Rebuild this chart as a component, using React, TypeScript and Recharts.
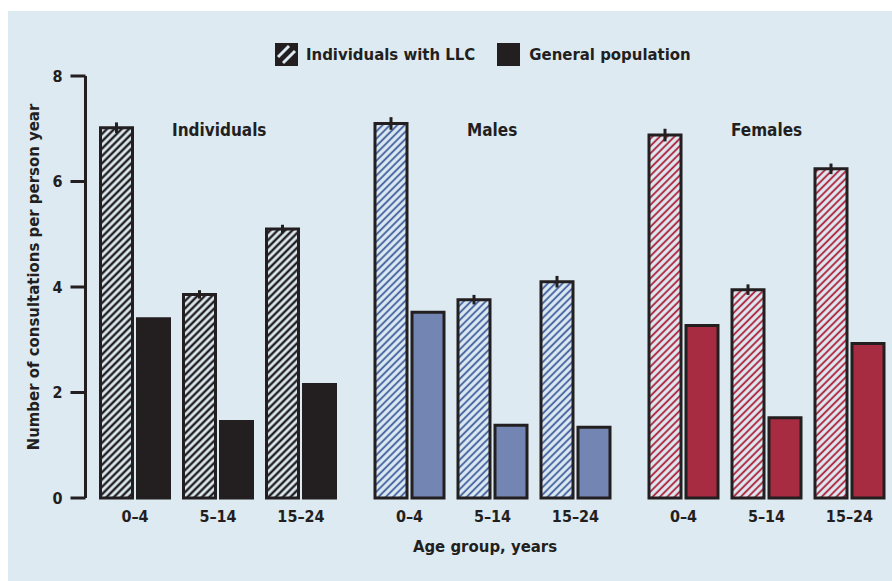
import React from 'react';
import { BarChart, Bar, XAxis, YAxis, ErrorBar } from 'recharts';

// age groups on the x axis
const ageGroups = ['0–4', '5–14', '15–24'];

// consultations per person year
const individualsLLC = [7.02, 3.86, 5.1];
const individualsGen = [3.4, 1.45, 2.15];
const individualsErr = [0.1, 0.08, 0.08];

const malesLLC = [7.1, 3.76, 4.1];
const malesGen = [3.52, 1.38, 1.34];
const malesErr = [0.12, 0.09, 0.11];

const femalesLLC = [6.88, 3.95, 6.24];
const femalesGen = [3.27, 1.52, 2.93];
const femalesErr = [0.12, 0.1, 0.1];

const yTicks = [0, 2, 4, 6, 8];

const BG = '#ddeaf2';
const INK = '#231f20';
const BLUE = '#7385b2';
const BLUE_STRIPE = '#4d6aa4';
const RED = '#a72c41';
const RED_STRIPE = '#b02f46';
const FONT = '"DejaVu Sans Condensed", "DejaVu Sans", sans-serif';

const build = (llc: number[], gen: number[], err: number[]) =>
  ageGroups.map((age, i) => ({ age, llc: llc[i], gen: gen[i], err: err[i] }));

const groups = [
  { title: 'Individuals', data: build(individualsLLC, individualsGen, individualsErr), hatch: 'hatch-ink', fill: INK },
  { title: 'Males', data: build(malesLLC, malesGen, malesErr), hatch: 'hatch-blue', fill: BLUE },
  { title: 'Females', data: build(femalesLLC, femalesGen, femalesErr), hatch: 'hatch-red', fill: RED },
];

const tickStyle = { fontSize: 16, fontWeight: 700, fill: INK, fontFamily: FONT };

function Hatch({ id, color, w }: { id: string; color: string; w: number }) {
  const s = 5.2;
  return (
    <pattern id={id} patternUnits="userSpaceOnUse" width={s} height={s} patternTransform="rotate(45)">
      <rect width={s} height={s} fill={BG} />
      <line x1={s / 2} y1="0" x2={s / 2} y2={s} stroke={color} strokeWidth={w} />
    </pattern>
  );
}

// panel coords: bands start at 85.5 / 359.5 / 633.5, each 249 wide
const bandLeft = [85.5, 359.5, 633.5];
const AXIS_X = 77.5;

export default function App() {
  return (
    <div style={{ position: 'absolute', left: 8, top: 11, width: 884, height: 570, background: BG, fontFamily: FONT, color: INK }}>
      <svg width={0} height={0} style={{ position: 'absolute' }}>
        <defs>
          <Hatch id="hatch-ink" color={INK} w={2.4} />
          <Hatch id="hatch-blue" color={BLUE_STRIPE} w={2} />
          <Hatch id="hatch-red" color={RED_STRIPE} w={2} />
        </defs>
      </svg>

      {/* legend */}
      <div style={{ position: 'absolute', left: 267, top: 32, display: 'flex', alignItems: 'center', fontSize: 16.6, fontWeight: 700 }}>
        <svg width={23} height={23} style={{ marginRight: 8 }}>
          <rect x={0} y={0} width={23} height={23} fill={INK} />
          <line x1={3} y1={14} x2={14} y2={3} stroke={BG} strokeWidth={3} />
          <line x1={8} y1={20} x2={20} y2={8} stroke={BG} strokeWidth={3} />
        </svg>
        <span>Individuals with LLC</span>
        <svg width={23} height={23} style={{ marginLeft: 22, marginRight: 9 }}>
          <rect x={0} y={0} width={23} height={23} fill={INK} />
        </svg>
        <span>General population</span>
      </div>

      {/* y axis title */}
      <div style={{ position: 'absolute', left: 25, top: 266, width: 0, height: 0 }}>
        <div style={{ position: 'absolute', transform: 'translate(-50%, -50%) rotate(-90deg)', whiteSpace: 'nowrap', fontSize: 16.6, fontWeight: 700 }}>
          Number of consultations per person year
        </div>
      </div>

      {groups.map((g, gi) => {
        const first = gi === 0;
        const left = first ? 0 : bandLeft[gi];
        const width = first ? bandLeft[0] + 249 : 249;
        return (
          <div key={g.title} style={{ position: 'absolute', left, top: 0 }}>
            <BarChart width={width} height={570} data={g.data} margin={{ top: 65, right: 0, bottom: 0, left: 0 }} barSize={32} barGap={5}>
              <XAxis
                dataKey="age"
                axisLine={false}
                tickLine={false}
                tickSize={0}
                tickMargin={13}
                height={83}
                interval={0}
                padding={first ? { left: bandLeft[0] - AXIS_X, right: 0 } : { left: 0, right: 0 }}
                tick={tickStyle}
              />
              <YAxis
                hide={!first}
                domain={[0, 8]}
                ticks={yTicks}
                width={AXIS_X}
                axisLine={{ stroke: INK, strokeWidth: 3 }}
                tickLine={{ stroke: INK, strokeWidth: 3 }}
                tickSize={15}
                tickMargin={8}
                tick={tickStyle}
              />
              <Bar dataKey="llc" fill={`url(#${g.hatch})`} stroke={INK} strokeWidth={3} isAnimationActive={false}>
                <ErrorBar dataKey="err" width={0} stroke={INK} strokeWidth={3} direction="y" />
              </Bar>
              <Bar dataKey="gen" fill={g.fill} stroke={INK} strokeWidth={3} isAnimationActive={false} />
            </BarChart>
          </div>
        );
      })}

      {/* group titles */}
      <div style={{ position: 'absolute', left: 164, top: 109, fontSize: 17, fontWeight: 700 }}>Individuals</div>
      <div style={{ position: 'absolute', left: 459, top: 109, fontSize: 17, fontWeight: 700 }}>Males</div>
      <div style={{ position: 'absolute', left: 723, top: 109, fontSize: 17, fontWeight: 700 }}>Females</div>

      {/* x axis title */}
      <div style={{ position: 'absolute', left: 477, top: 526, transform: 'translateX(-50%)', whiteSpace: 'nowrap', fontSize: 16.6, fontWeight: 700 }}>
        Age group, years
      </div>
    </div>
  );
}
